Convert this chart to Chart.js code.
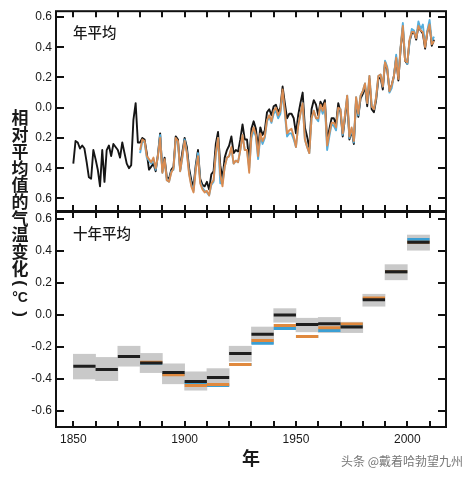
<!DOCTYPE html>
<html><head><meta charset="utf-8">
<script src="https://cdn.jsdelivr.net/npm/chart.js@4/dist/chart.umd.min.js"></script>
<style>
html,body{margin:0;padding:0;background:#fff;}
#wrap{position:relative;width:474px;height:478px;overflow:hidden;background:#fff;}
canvas{position:absolute;left:0;top:0;}
</style></head><body>
<div id="wrap"><canvas id="cTop" width="474" height="478"></canvas><canvas id="cBot" width="474" height="478"></canvas></div>
<script>
// ---------- data ----------
const blackStart = 1850;
const blackAnnual = [
-0.37,-0.22,-0.23,-0.27,-0.25,-0.27,-0.36,-0.46,-0.47,-0.28,
-0.34,-0.41,-0.52,-0.28,-0.49,-0.28,-0.25,-0.32,-0.24,-0.26,
-0.28,-0.33,-0.23,-0.30,-0.37,-0.40,-0.38,-0.08,0.03,-0.23,
-0.23,-0.20,-0.21,-0.30,-0.41,-0.39,-0.37,-0.42,-0.31,-0.17,
-0.42,-0.33,-0.46,-0.47,-0.41,-0.39,-0.19,-0.21,-0.41,-0.29,
-0.20,-0.26,-0.40,-0.48,-0.52,-0.38,-0.28,-0.47,-0.51,-0.52,
-0.49,-0.54,-0.44,-0.42,-0.24,-0.16,-0.38,-0.47,-0.33,-0.28,
-0.25,-0.19,-0.30,-0.28,-0.29,-0.21,-0.11,-0.21,-0.21,-0.35,
-0.14,-0.09,-0.14,-0.27,-0.13,-0.18,-0.15,-0.03,-0.01,-0.05,
0.01,0.02,-0.03,0.00,0.14,0.03,-0.07,-0.04,-0.04,-0.07,
-0.17,-0.05,0.03,0.10,-0.13,-0.19,-0.27,-0.01,0.05,0.02,
-0.05,0.04,0.01,0.05,-0.22,-0.14,-0.07,-0.07,-0.11,0.03,
-0.03,-0.19,-0.07,0.06,-0.21,-0.15,-0.24,0.05,-0.06,0.06,
0.09,0.14,0.01,0.19,-0.01,-0.03,0.05,0.19,0.20,0.12,
0.30,0.25,0.11,0.15,0.21,0.33,0.18,0.39,0.53,0.31,
0.29,0.44,0.49,0.50,0.45,0.54,0.51,0.49,0.39,0.50,
0.55,0.41,0.45];
const colorStart = 1880;
const orangeAnnual = [
-0.28,-0.21,-0.22,-0.32,-0.34,-0.36,-0.33,-0.40,-0.32,-0.20,
-0.43,-0.34,-0.48,-0.49,-0.43,-0.40,-0.20,-0.22,-0.42,-0.32,
-0.22,-0.30,-0.44,-0.52,-0.56,-0.41,-0.32,-0.50,-0.54,-0.56,
-0.55,-0.58,-0.50,-0.48,-0.30,-0.20,-0.44,-0.52,-0.39,-0.33,
-0.32,-0.26,-0.37,-0.35,-0.36,-0.28,-0.18,-0.28,-0.28,-0.43,
-0.18,-0.13,-0.18,-0.32,-0.17,-0.22,-0.19,-0.08,-0.05,-0.09,
-0.02,0.00,-0.05,-0.02,0.12,-0.02,-0.17,-0.15,-0.14,-0.19,
-0.26,-0.12,-0.04,0.03,-0.21,-0.26,-0.30,-0.07,-0.02,-0.07,
-0.07,0.02,-0.02,0.03,-0.25,-0.17,-0.10,-0.10,-0.13,0.00,
-0.01,-0.17,-0.05,0.08,-0.19,-0.13,-0.22,0.07,-0.04,0.08,
0.11,0.16,0.03,0.21,0.01,-0.01,0.07,0.21,0.22,0.14,
0.30,0.26,0.11,0.15,0.21,0.33,0.19,0.40,0.54,0.31,
0.30,0.45,0.50,0.50,0.46,0.54,0.51,0.50,0.40,0.50,
0.55,0.42,0.44];
const blueAnnual = [
-0.30,-0.22,-0.23,-0.33,-0.35,-0.37,-0.34,-0.41,-0.32,-0.18,
-0.43,-0.35,-0.48,-0.49,-0.42,-0.41,-0.21,-0.23,-0.42,-0.33,
-0.21,-0.29,-0.43,-0.51,-0.55,-0.40,-0.30,-0.49,-0.53,-0.55,
-0.56,-0.58,-0.51,-0.49,-0.31,-0.20,-0.50,-0.50,-0.39,-0.33,
-0.32,-0.27,-0.37,-0.35,-0.36,-0.28,-0.18,-0.28,-0.28,-0.40,
-0.20,-0.15,-0.19,-0.34,-0.19,-0.24,-0.20,-0.09,-0.06,-0.10,
-0.04,-0.02,-0.07,-0.04,0.10,-0.04,-0.19,-0.17,-0.17,-0.21,
-0.26,-0.12,-0.04,0.03,-0.21,-0.26,-0.30,-0.07,-0.02,-0.07,
-0.09,0.01,-0.04,0.01,-0.28,-0.19,-0.11,-0.12,-0.15,-0.01,
-0.01,-0.18,-0.05,0.08,-0.20,-0.14,-0.23,0.07,-0.05,0.08,
0.11,0.16,0.03,0.21,0.01,-0.01,0.07,0.21,0.22,0.14,
0.31,0.27,0.10,0.13,0.21,0.35,0.21,0.40,0.56,0.33,
0.29,0.43,0.52,0.51,0.46,0.57,0.52,0.55,0.41,0.51,
0.58,0.44,0.47];

const decadeStarts = [1850,1860,1870,1880,1890,1900,1910,1920,1930,1940,1950,1960,1970,1980,1990,2000];
const decadeBlack  = [-0.32,-0.34,-0.26,-0.30,-0.36,-0.415,-0.39,-0.24,-0.12,0.00,-0.06,-0.055,-0.075,0.095,0.27,0.455];
const decadeLow    = [-0.40,-0.41,-0.32,-0.36,-0.43,-0.47,-0.445,-0.29,-0.18,-0.045,-0.105,-0.11,-0.11,0.055,0.22,0.405];
const decadeHigh   = [-0.245,-0.265,-0.195,-0.24,-0.305,-0.355,-0.335,-0.195,-0.075,0.04,-0.02,-0.015,-0.045,0.13,0.315,0.50];
const decadeOrange = [null,null,null,-0.295,-0.373,-0.44,-0.435,-0.31,-0.16,-0.065,-0.135,-0.08,-0.056,0.107,0.27,0.455];
const decadeBlue   = [null,null,null,-0.30,-0.37,-0.425,-0.44,-0.31,-0.176,-0.085,-0.135,-0.097,-0.06,0.10,0.27,0.472];

const xTickYears = [1850,1860,1870,1880,1890,1900,1910,1920,1930,1940,1950,1960,1970,1980,1990,2000,2010];
const xLabelYears = [1850,1900,1950,2000];
const yTickValues = [-0.6,-0.4,-0.2,0.0,0.2,0.4,0.6];
const yTopLabels = ['0.6','0.4','0.2','0.0','0.2','0.4','0.6'];
const yBotLabels = ['-0.6','-0.4','-0.2','0.0','0.2','0.4','0.6'];

const topPanelLabel = '年平均';
const botPanelLabel = '十年平均';
const xTitle = '年';
const yTitleChars = ['相','对','平','均','值','的','气','温','变','化'];
const yTitleUnit = ['(', '°C', ')'];
const watermark = '头条 @戴着哈勃望九州';

// ---------- helpers ----------
const FONT = '"Liberation Sans", Arial, sans-serif';
const CJK = '"Noto Sans CJK SC", sans-serif';
const X_MIN = 1842.23, X_MAX = 2017.38;

function annual(start, vals){ return vals.map((v,i)=>({x:start+i, y:v})); }
function segments(vals){
  const out=[];
  decadeStarts.forEach((d,i)=>{ if(vals[i]===null) return; out.push({x:d,y:vals[i]},{x:d+10,y:vals[i]},{x:d+10,y:null}); });
  return out;
}
function frameTicks(chart){
  const {ctx, chartArea:a, scales} = chart;
  const x = scales.x, y = scales.y;
  ctx.save();
  ctx.strokeStyle = '#111'; ctx.lineWidth = 2;
  ctx.strokeRect(a.left, a.top, a.right-a.left, a.bottom-a.top);
  ctx.beginPath();
  xTickYears.forEach(t=>{ const px=Math.round(x.getPixelForValue(t)); ctx.moveTo(px,a.top); ctx.lineTo(px,a.top+6); ctx.moveTo(px,a.bottom); ctx.lineTo(px,a.bottom-6); });
  yTickValues.forEach(v=>{ const py=Math.round(y.getPixelForValue(v)); ctx.moveTo(a.left,py); ctx.lineTo(a.left+8,py); ctx.moveTo(a.right,py); ctx.lineTo(a.right-8,py); });
  ctx.stroke();
  ctx.restore();
}
function panelLabel(chart, text){
  const {ctx, chartArea:a} = chart;
  ctx.save();
  ctx.fillStyle='#1a1a1a'; ctx.font='500 14.5px '+CJK; ctx.textAlign='left'; ctx.textBaseline='middle';
  ctx.fillText(text, a.left+17, a.top+21);
  ctx.restore();
}
function yAxisOpts(labels, min, max){
  return {min, max,
    afterFit(s){ s.width = 56; },
    afterBuildTicks(s){ s.ticks = yTickValues.map(v=>({value:v})); },
    grid:{display:false, drawTicks:false}, border:{display:false},
    ticks:{padding:4, color:'#1a1a1a', font:{size:12, family:FONT}, callback:(v,i)=>labels[i]}
  };
}

Chart.defaults.animation = false;

new Chart(document.getElementById('cTop'), {
  type:'line',
  data:{datasets:[
    {data:annual(blackStart, blackAnnual), borderColor:'#151515', borderWidth:1.9, order:3},
    {data:annual(colorStart, blueAnnual), borderColor:'#55aedc', borderWidth:1.9, order:2},
    {data:annual(colorStart, orangeAnnual), borderColor:'#d98c52', borderWidth:1.9, order:1}
  ]},
  options:{
    responsive:false, devicePixelRatio:1,
    layout:{padding:{left:0, right:28, top:4, bottom:267}},
    elements:{point:{radius:0}, line:{tension:0, borderJoinStyle:'round'}},
    plugins:{legend:{display:false}, tooltip:{enabled:false}},
    scales:{
      x:{type:'linear', min:X_MIN, max:X_MAX, display:false},
      y:yAxisOpts(yTopLabels, -0.683, 0.638)
    }
  },
  plugins:[{id:'deco', afterDatasetsDraw(c){ frameTicks(c); panelLabel(c, topPanelLabel); }}]
});

new Chart(document.getElementById('cBot'), {
  type:'line',
  data:{datasets:[
    {type:'bar', data:decadeStarts.map((d,i)=>({x:d+5, y:[decadeLow[i], decadeHigh[i]]})),
     backgroundColor:'#c9c9c9', borderWidth:0, categoryPercentage:1, barPercentage:1, order:4},
    {data:segments(decadeBlue), borderColor:'#3b9fd4', borderWidth:3, order:3},
    {data:segments(decadeOrange), borderColor:'#e0893e', borderWidth:3, order:2},
    {data:segments(decadeBlack), borderColor:'#1e1e1e', borderWidth:3, order:1}
  ]},
  options:{
    responsive:false, devicePixelRatio:1,
    layout:{padding:{left:0, right:28, top:212, bottom:8}},
    elements:{point:{radius:0}, line:{tension:0, borderCapStyle:'butt'}},
    plugins:{legend:{display:false}, tooltip:{enabled:false}},
    scales:{
      x:{type:'linear', min:X_MIN, max:X_MAX, offset:false,
        afterFit(s){ s.height = 43; },
        afterBuildTicks(s){ s.ticks = xLabelYears.map(v=>({value:v})); },
        grid:{display:false, drawTicks:false}, border:{display:false},
        ticks:{padding:5, color:'#1a1a1a', autoSkip:false, maxRotation:0, font:{size:12, family:FONT}, callback:v=>String(v)},
        title:{display:true, text:xTitle, color:'#1a1a1a', font:{size:18, weight:'bold', family:CJK}, padding:{top:0,bottom:1}}
      },
      y:yAxisOpts(yBotLabels, -0.70, 0.644)
    }
  },
  plugins:[{id:'deco', afterDatasetsDraw(c){
    frameTicks(c); panelLabel(c, botPanelLabel);
    const ctx=c.ctx;
    ctx.save();
    ctx.fillStyle='#1a1a1a'; ctx.textAlign='center'; ctx.textBaseline='middle';
    ctx.font='bold 17px '+CJK;
    yTitleChars.forEach((ch,i)=>ctx.fillText(ch, 20, 118+i*16.7));
    ctx.font='bold 17px '+FONT;
    [[yTitleUnit[0],283],[yTitleUnit[2],314]].forEach(([ch,yy])=>{ ctx.save(); ctx.translate(20,yy); ctx.rotate(Math.PI/2); ctx.fillText(ch,0,0); ctx.restore(); });
    ctx.font='bold 14px '+FONT;
    ctx.fillText(yTitleUnit[1], 20, 298);
    ctx.fillStyle='#777'; ctx.font='12px '+CJK; ctx.textAlign='right';
    ctx.fillText(watermark, 463, 461);
    ctx.restore();
  }}]
});
</script></body></html>
